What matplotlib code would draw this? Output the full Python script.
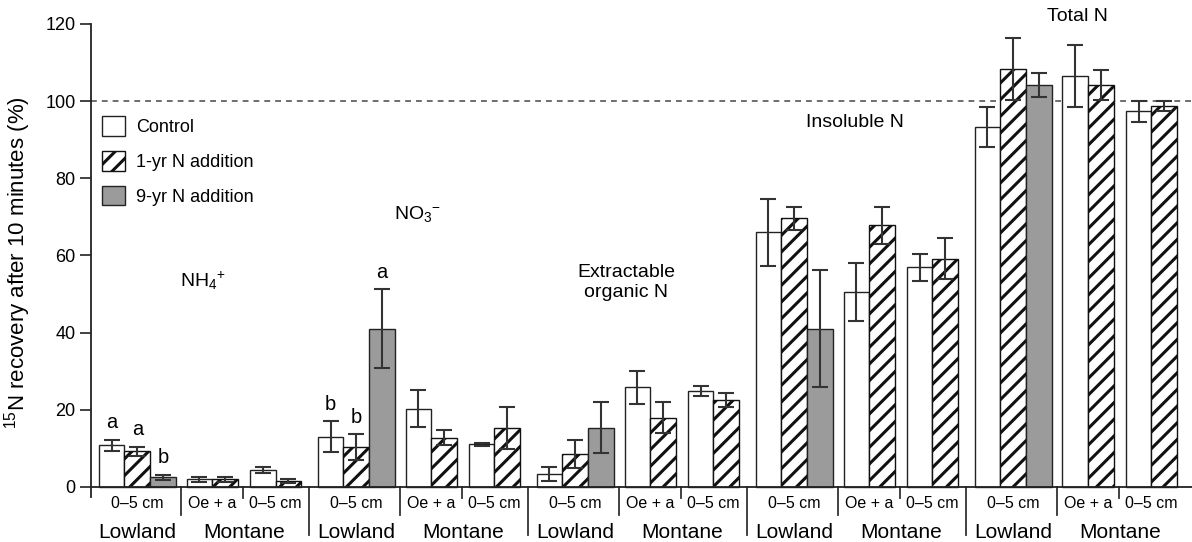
import matplotlib
matplotlib.use("Agg")
import matplotlib.pyplot as plt
from matplotlib.patches import Patch

plt.rcParams['font.family'] = ['Liberation Sans', 'DejaVu Sans']
plt.rcParams['mathtext.fontset'] = 'custom'
plt.rcParams['mathtext.rm'] = 'Liberation Sans'
plt.rcParams['mathtext.it'] = 'Liberation Sans:italic'
plt.rcParams['mathtext.bf'] = 'Liberation Sans:bold'
plt.rcParams['hatch.linewidth'] = 2.2

# ---------------- data ----------------
categories = [r'NH$_4$$^{+}$', r'NO$_3$$^{-}$', 'Extractable\norganic N', 'Insoluble N', 'Total N']
series_names = ['Control', '1-yr N addition', '9-yr N addition']
sub_labels = ['0\u20135 cm', 'Oe + a', '0\u20135 cm']
site_labels = ['Lowland', 'Montane']

# Lowland 0-5 cm
low_control = [10.8, 13.0, 3.3, 66.0, 93.3]
low_control_err = [1.5, 4.0, 1.8, 8.7, 5.2]
low_1yr = [9.2, 10.3, 8.6, 69.6, 108.3]
low_1yr_err = [1.2, 3.3, 3.6, 3.0, 8.0]
low_9yr = [2.5, 41.0, 15.3, 41.0, 104.2]
low_9yr_err = [0.7, 10.2, 6.6, 15.2, 3.1]
# Montane Oe + a
oe_control = [2.0, 20.3, 25.8, 50.5, 106.5]
oe_control_err = [0.6, 4.8, 4.2, 7.5, 8.0]
oe_1yr = [2.0, 12.8, 17.9, 67.8, 104.2]
oe_1yr_err = [0.6, 2.0, 4.0, 4.7, 4.0]
# Montane 0-5 cm
m05_control = [4.4, 11.1, 24.9, 56.9, 97.4]
m05_control_err = [0.7, 0.4, 1.2, 3.4, 2.7]
m05_1yr = [1.5, 15.3, 22.6, 59.2, 98.7]
m05_1yr_err = [0.5, 5.5, 1.8, 5.4, 1.3]

# significance letters: (category index, bar slot 0..2 within lowland, letter)
letters_cat = [0, 0, 0, 1, 1, 1]
letters_slot = [0, 1, 2, 0, 1, 2]
letters_txt = ['a', 'a', 'b', 'b', 'b', 'a']

# ---------------- layout ----------------
W = 1192; H = 542
fig = plt.figure(figsize=(W / 100, H / 100), dpi=100)
ax = fig.add_axes([91 / W, 45 / H, (W - 91) / W, 473 / H])
ax.set_xlim(0, 42.84)
ax.set_ylim(-2.6, 120)

bw = 1.0
gstart = [0.3 + 8.52 * i for i in range(5)]
off_oe = 3.42
off_m05 = 5.88

styles = {
    'control': dict(facecolor='white', edgecolor='#222222', hatch=None),
    '1yr': dict(facecolor='white', edgecolor='#111111', hatch='//'),
    '9yr': dict(facecolor='#9b9b9b', edgecolor='#222222', hatch=None),
}
err_kw = dict(ecolor='#333333', elinewidth=1.5, capsize=6, capthick=1.5)


def draw(xs, vals, errs, key):
    st = styles[key]
    ax.bar(xs, vals, width=bw, align='edge', facecolor=st['facecolor'],
           edgecolor=st['edgecolor'], hatch=st['hatch'], linewidth=1.0, zorder=2)
    ax.errorbar([x + bw / 2 for x in xs], vals, yerr=errs, fmt='none', zorder=3, **err_kw)


draw([g for g in gstart], low_control, low_control_err, 'control')
draw([g + 1 for g in gstart], low_1yr, low_1yr_err, '1yr')
draw([g + 2 for g in gstart], low_9yr, low_9yr_err, '9yr')
draw([g + off_oe for g in gstart], oe_control, oe_control_err, 'control')
draw([g + off_oe + 1 for g in gstart], oe_1yr, oe_1yr_err, '1yr')
draw([g + off_m05 for g in gstart], m05_control, m05_control_err, 'control')
draw([g + off_m05 + 1 for g in gstart], m05_1yr, m05_1yr_err, '1yr')

# letters
low_vals = [low_control, low_1yr, low_9yr]
low_errs = [low_control_err, low_1yr_err, low_9yr_err]
for c, s, t in zip(letters_cat, letters_slot, letters_txt):
    top = low_vals[s][c] + low_errs[s][c]
    ax.text(gstart[c] + s + 0.5, top + 4.5, t, ha='center', va='center', fontsize=14.5)

# dashed 100 line
ax.axhline(100, color='#555555', lw=1.2, ls=(0, (3.5, 3)), zorder=1)
# x axis line at 0
ax.axhline(0, color='#222222', lw=1.3, zorder=4)

# spines
for s in ['top', 'right', 'bottom']:
    ax.spines[s].set_visible(False)
ax.spines['left'].set_linewidth(1.3)
ax.spines['left'].set_color('#222222')
ax.set_xticks([])
ax.set_yticks([0, 20, 40, 60, 80, 100, 120])
ax.tick_params(axis='y', length=8, width=1.2, labelsize=13, pad=3, color='#222222')
ax.set_ylabel(r'$^{15}$N recovery after 10 minutes (%)', fontsize=16)
ax.yaxis.set_label_coords(-0.053, 0.495)

# separators and bottom labels
for i, g in enumerate(gstart):
    ax.plot([g + 3.2, g + 3.2], [0, -7.3], color='#333333', lw=1.3, clip_on=False)
    ax.plot([g + 5.62, g + 5.62], [0, -2.9], color='#333333', lw=1.3, clip_on=False)
    if i > 0:
        ax.plot([g - 0.33, g - 0.33], [0, -12.5], color='#333333', lw=1.3, clip_on=False)
    ax.text(g + 1.5, -4.3, sub_labels[0], ha='center', va='center', fontsize=11.5)
    ax.text(g + off_oe + 1, -4.3, sub_labels[1], ha='center', va='center', fontsize=11.5)
    ax.text(g + off_m05 + 1, -4.3, sub_labels[2], ha='center', va='center', fontsize=11.5)
    ax.text(g + 1.5, -11.7, site_labels[0], ha='center', va='center', fontsize=15)
    ax.text(g + 5.65, -11.7, site_labels[1], ha='center', va='center', fontsize=15)

# category labels (positions in pixel-based data units)
def px2x(px):
    return (px - 91) / 25.7

def py2y(py):
    return (487 - py) / 3.85

cat_pos = [(203, 281), (417, 215), (626, 283), (855, 123), (1077, 18)]
for lab, (px, py) in zip(categories, cat_pos):
    ax.text(px2x(px), py2y(py), lab, ha='center', va='center', fontsize=14,
            linespacing=1.25, clip_on=False)

# legend
handles = [Patch(facecolor='white', edgecolor='#222222', lw=1.0),
           Patch(facecolor='white', edgecolor='#111111', hatch='//', lw=1.0),
           Patch(facecolor='#9b9b9b', edgecolor='#222222', lw=1.0)]
ax.legend(handles, series_names, loc='upper left', bbox_to_anchor=(0.010, 0.805),
          frameon=False, fontsize=13, handlelength=1.3, handleheight=1.3,
          handletextpad=0.6, labelspacing=0.82, borderpad=0, borderaxespad=0)

fig.savefig('out.png', dpi=100)
